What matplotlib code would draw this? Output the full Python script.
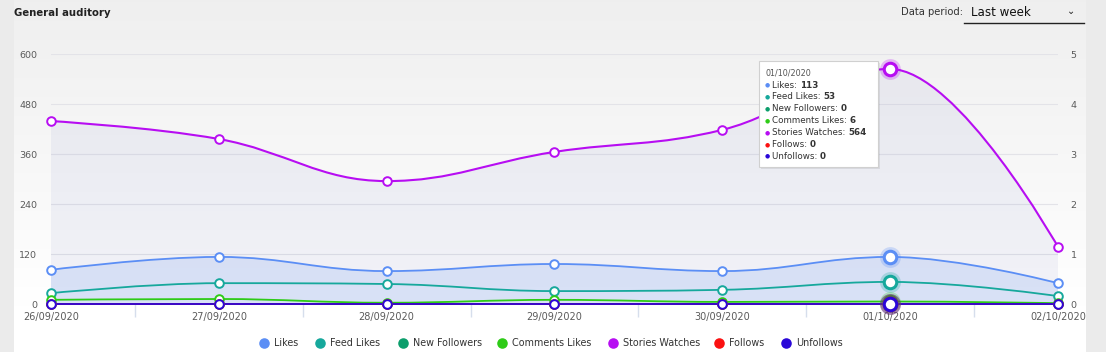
#!/usr/bin/env python3
"""General auditory: weekly engagement lines (Highcharts-like spline look)."""

import numpy as np
import matplotlib
matplotlib.use("Agg")
import matplotlib.pyplot as plt
from matplotlib.path import Path
from matplotlib.patches import PathPatch, FancyBboxPatch
from matplotlib.lines import Line2D

# ------------------------------------------------------------------
# Data
# ------------------------------------------------------------------
DATES = ["26/09/2020", "27/09/2020", "28/09/2020", "29/09/2020",
         "30/09/2020", "01/10/2020", "02/10/2020"]

LIKES = [82, 113, 79, 96, 79, 113, 50]
FEED_LIKES = [26, 50, 48, 31, 34, 53, 19]
NEW_FOLLOWERS = [0, 0, 0, 0, 0, 0, 0]
COMMENTS_LIKES = [10, 12, 3, 10, 5, 6, 2]
STORIES_WATCHES = [439, 396, 295, 365, 418, 564, 137]
FOLLOWS = [0, 0, 0, 0, 0, 0, 0]
UNFOLLOWS = [0, 0, 0, 0, 0, 0, 0]

SERIES_NAMES = ["Likes", "Feed Likes", "New Followers", "Comments Likes",
                "Stories Watches", "Follows", "Unfollows"]
SERIES_VALUES = [LIKES, FEED_LIKES, NEW_FOLLOWERS, COMMENTS_LIKES,
                 STORIES_WATCHES, FOLLOWS, UNFOLLOWS]

LEFT_TICKS = [0, 120, 240, 360, 480, 600]
RIGHT_TICKS = [0, 1, 2, 3, 4, 5]
HOVER_IDX = 5

# ------------------------------------------------------------------
# Palette / layout
# ------------------------------------------------------------------
COLORS = {
    "Likes": "#5b8ef5",
    "Feed Likes": "#16a89c",
    "New Followers": "#0c9e6c",
    "Comments Likes": "#2ecb17",
    "Stories Watches": "#b70df2",
    "Follows": "#fb1111",
    "Unfollows": "#2a07d8",
}
FILLS = {"Stories Watches": ("#8890c8", 0.10), "Likes": ("#5b8ef5", 0.17)}
INK = "#333333"
SUBTLE = "#5a5a5a"
GRID = "#e3e3e8"
PAGE_BG = "#ebebeb"

W, H = 1106, 352
# legend item centres in pixels (html legend spacing)
LEGEND_PX = [264, 320, 403, 502, 613, 719, 786]


def fx(px):
    return px / W


def fy(py):
    return 1 - py / H


def spline_path(xs, ys):
    """Highcharts-style spline through the points as cubic Bezier segments."""
    n = len(xs)
    left = [(xs[i], ys[i]) for i in range(n)]
    right = [(xs[i], ys[i]) for i in range(n)]
    sm, den = 1.5, 2.5
    for i in range(1, n - 1):
        lx, ly = xs[i - 1], ys[i - 1]
        px, py = xs[i], ys[i]
        nx, ny = xs[i + 1], ys[i + 1]
        lcx = (sm * px + lx) / den
        lcy = (sm * py + ly) / den
        rcx = (sm * px + nx) / den
        rcy = (sm * py + ny) / den
        corr = 0.0
        if rcx != lcx:
            corr = (rcy - lcy) * (rcx - px) / (rcx - lcx) + py - rcy
        lcy += corr
        rcy += corr
        if lcy > ly and lcy > py:
            lcy = max(ly, py)
            rcy = 2 * py - lcy
        elif lcy < ly and lcy < py:
            lcy = min(ly, py)
            rcy = 2 * py - lcy
        if rcy > ny and rcy > py:
            rcy = max(ny, py)
            lcy = 2 * py - rcy
        elif rcy < ny and rcy < py:
            rcy = min(ny, py)
            lcy = 2 * py - rcy
        left[i] = (lcx, lcy)
        right[i] = (rcx, rcy)
    verts = [(xs[0], ys[0])]
    codes = [Path.MOVETO]
    for i in range(1, n):
        verts += [right[i - 1], left[i], (xs[i], ys[i])]
        codes += [Path.CURVE4] * 3
    return verts, codes


def main():
    plt.rcParams.update({"font.family": "DejaVu Sans"})
    fig = plt.figure(figsize=(W / 100, H / 100), dpi=100, facecolor=PAGE_BG)

    # Card with a soft vertical gradient
    bg = fig.add_axes([fx(14), 0, fx(1086 - 14), 1], zorder=-5)
    grad = np.linspace(0, 1, 256).reshape(-1, 1)
    top_c = np.array([0.937, 0.937, 0.937])
    bot_c = np.array([1.0, 1.0, 1.0])
    img = top_c + (bot_c - top_c) * np.clip(grad * 1.15, 0, 1)[..., None]
    bg.imshow(img, aspect="auto", extent=[0, 1, 1, 0], interpolation="bilinear")
    bg.set_axis_off()

    x = np.arange(len(DATES))
    ax = fig.add_axes([fx(51), fy(304), fx(1058 - 51), (304 - 54) / H])
    ax.patch.set_alpha(0)
    ax.set_xlim(0, len(DATES) - 1)
    ax.set_ylim(0, 600)

    for t in LEFT_TICKS:
        ax.axhline(t, color=GRID, lw=0.8, zorder=0)

    # Filled areas
    for name, vals in zip(SERIES_NAMES, SERIES_VALUES):
        if name in FILLS:
            verts, codes = spline_path(list(x), list(vals))
            verts = verts + [(x[-1], 0), (x[0], 0), (x[0], 0)]
            codes = codes + [Path.LINETO, Path.LINETO, Path.CLOSEPOLY]
            c, a = FILLS[name]
            ax.add_patch(PathPatch(Path(verts, codes), facecolor=c, alpha=a,
                                   edgecolor="none", zorder=1))

    # Lines + markers
    for k, (name, vals) in enumerate(zip(SERIES_NAMES, SERIES_VALUES)):
        c = COLORS[name]
        verts, codes = spline_path(list(x), list(vals))
        ax.add_patch(PathPatch(Path(verts, codes), facecolor="none",
                               edgecolor=c, lw=1.3 if name != "Stories Watches" else 1.5,
                               zorder=2 + k * 0.1, clip_on=False))
        others = [i for i in x if i != HOVER_IDX]
        ax.plot(others, [vals[i] for i in others], ls="none", marker="o",
                ms=6.2, mfc="white", mec=c, mew=1.4, zorder=3 + k * 0.1,
                clip_on=False)
        # hovered point: halo + bigger marker
        ax.plot([HOVER_IDX], [vals[HOVER_IDX]], ls="none", marker="o",
                ms=15, mfc=c, mec="none", alpha=0.25, zorder=3 + k * 0.1,
                clip_on=False)
        ax.plot([HOVER_IDX], [vals[HOVER_IDX]], ls="none", marker="o",
                ms=9, mfc="white", mec=c, mew=2.2, zorder=3.05 + k * 0.1,
                clip_on=False)

    # Axes styling
    for s in ax.spines.values():
        s.set_visible(False)
    ax.set_yticks(LEFT_TICKS)
    ax.set_yticklabels([str(t) for t in LEFT_TICKS])
    ax.tick_params(axis="y", length=0, pad=10, labelsize=6.8, labelcolor=SUBTLE)
    ax.set_xticks(x)
    ax.set_xticklabels(DATES)
    ax.tick_params(axis="x", length=0, pad=6, labelsize=7.0, labelcolor=SUBTLE)
    ax.set_xticks(x[:-1] + 0.5, minor=True)
    ax.tick_params(axis="x", which="minor", length=9, width=1.0, color="#d6deec")

    ax2 = ax.twinx()
    ax2.set_ylim(0, 5)
    ax2.set_yticks(RIGHT_TICKS)
    ax2.tick_params(axis="y", length=0, pad=9, labelsize=6.8, labelcolor=SUBTLE)
    for s in ax2.spines.values():
        s.set_visible(False)
    ax2.patch.set_alpha(0)

    # Header
    fig.text(fx(14), fy(13), "General auditory", ha="left", va="center",
             fontsize=7.3, fontweight="bold", color="#222222")
    fig.text(fx(963), fy(12), "Data period:", ha="right", va="center",
             fontsize=7.2, color=INK)
    fig.text(fx(971), fy(12), "Last week", ha="left", va="center",
             fontsize=8.6, color="#111111")
    fig.text(fx(1071), fy(11), "\u2304", ha="center", va="center",
             fontsize=7, color="#222222")
    fig.add_artist(Line2D([fx(964), fx(1084)], [fy(23), fy(23)],
                          color="#222222", lw=1.0))

    # Tooltip
    tip = FancyBboxPatch((fx(759), fy(167)), fx(878 - 759), (167 - 61) / H,
                         boxstyle="square,pad=0", transform=fig.transFigure,
                         facecolor="white", edgecolor="#d0d0d0", lw=0.8,
                         zorder=10)
    shadow = FancyBboxPatch((fx(761), fy(169)), fx(878 - 759), (167 - 61) / H,
                            boxstyle="square,pad=0", transform=fig.transFigure,
                            facecolor="#000000", alpha=0.08, edgecolor="none",
                            zorder=9)
    fig.add_artist(shadow)
    fig.add_artist(tip)
    fig.text(fx(765), fy(73), DATES[HOVER_IDX], ha="left", va="center",
             fontsize=5.8, color="#555555", zorder=11)
    for j, (name, vals) in enumerate(zip(SERIES_NAMES, SERIES_VALUES)):
        yy = fy(85 + j * 11.9)
        fig.text(fx(767), yy, "\u25cf", ha="center", va="center",
                 fontsize=4.2, color=COLORS[name], zorder=11)
        lab = fig.text(fx(772), yy, f"{name}: ", ha="left", va="center",
                       fontsize=6.3, color=INK, zorder=11)
        ann = plt.Annotation(str(vals[HOVER_IDX]), xy=(1, 0.5), xycoords=lab,
                             ha="left", va="center", fontsize=6.3,
                             fontweight="bold", color=INK, zorder=11)
        fig.add_artist(ann)

    # Legend (html-style row of items)
    for name, cx in zip(SERIES_NAMES, LEGEND_PX):
        fig.add_artist(Line2D([fx(cx)], [fy(343)], ls="none", marker="o",
                              ms=7.6, mfc=COLORS[name], mec="none"))
        fig.text(fx(cx + 10), fy(343), name, ha="left", va="center",
                 fontsize=6.9, color=INK)

    fig.savefig("out.png", dpi=100, facecolor=PAGE_BG)


if __name__ == "__main__":
    main()
